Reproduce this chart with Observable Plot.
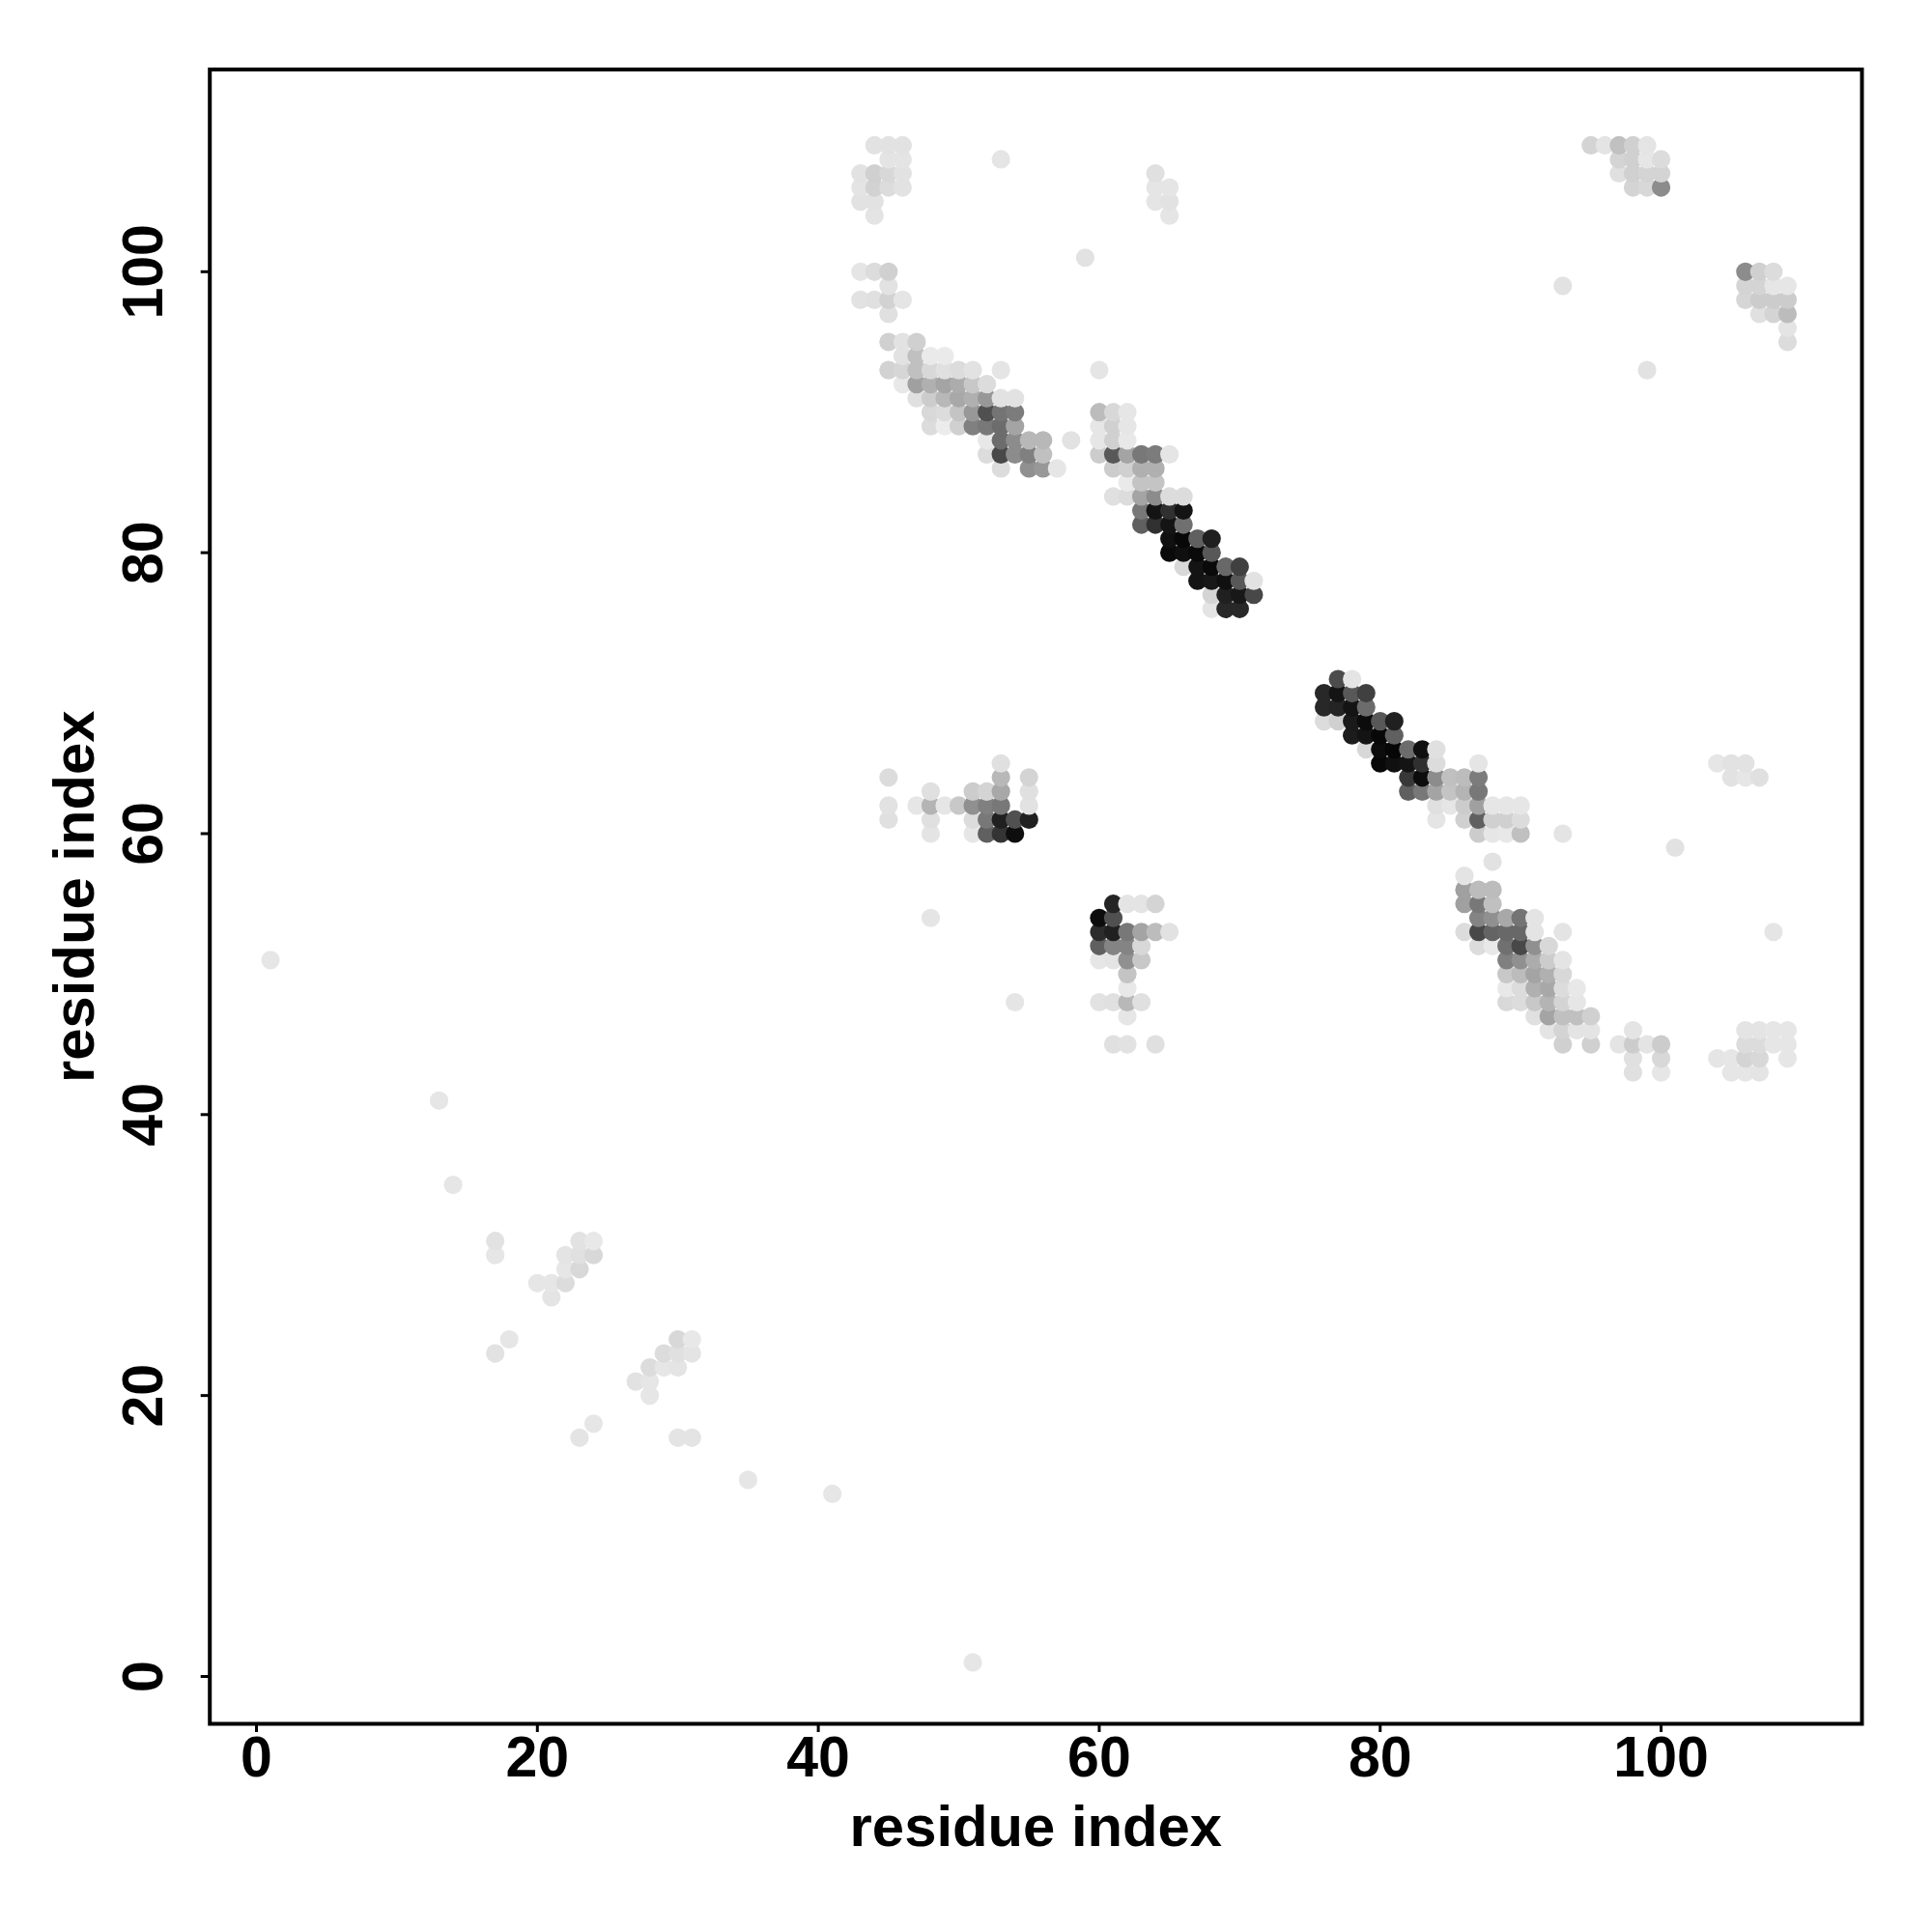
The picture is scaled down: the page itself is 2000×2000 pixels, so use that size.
<!DOCTYPE html>
<html>
<head>
<meta charset="utf-8">
<style>html,body{margin:0;padding:0;background:#fff}</style>
<script src="https://cdn.jsdelivr.net/npm/d3@7"></script>
<script src="https://cdn.jsdelivr.net/npm/@observablehq/plot@0.6"></script>
</head>
<body>
<script>
const axisTicks = [0, 20, 40, 60, 80, 100];
const axisTitle = "residue index";
// One entry per row of the map: the row's residue index, its column indices, and their grey levels.
const rowIndex = [109,108,107,106,105,104,101,100,99,98,97,96,95,94,93,92,91,90,89,88,87,86,85,84,83,82,81,80,79,78,77,76,71,70,69,68,67,66,65,64,63,62,61,60,59,58,57,56,55,54,53,52,51,50,49,48,47,46,45,44,43,41,35,31,30,29,28,27,24,23,22,21,20,18,17,14,13,1];
const rowColumns = [
[44,45,46,95,96,97,98,99],
[45,46,53,97,98,99,100],
[43,44,45,46,64,97,98,99,100],
[43,44,45,46,64,65,98,99,100],
[43,44,64,65],
[44,65],
[59],
[43,44,45,106,107,108],
[45,93,106,107,108,109],
[43,44,45,46,106,107,108,109],
[45,107,108,109],
[109],
[45,46,47,109],
[46,47,48,49],
[45,46,47,48,49,50,51,53,60,99],
[46,47,48,49,50,51,52],
[47,48,49,50,51,52,53,54],
[48,49,50,51,52,53,54,60,61,62],
[48,49,50,51,52,53,54,60,61,62],
[52,53,54,55,56,58,60,61,62],
[52,53,54,55,56,60,61,62,63,64,65],
[53,55,56,57,61,62,63,64],
[62,63,64],
[61,62,63,64,65,66],
[63,64,65,66],
[63,64,65,66],
[65,66,67,68],
[65,66,67,68],
[66,67,68,69,70],
[67,68,69,70,71],
[68,69,70,71],
[68,69,70],
[77,78],
[76,77,78,79],
[76,77,78,79],
[76,77,78,79,80,81],
[78,79,80,81],
[79,80,81,82,83,84],
[53,80,81,82,83,84,87,104,105,106],
[45,53,55,82,83,84,85,86,87,105,106,107],
[48,51,52,53,55,82,83,84,85,86,87],
[45,47,48,49,50,51,52,53,55,84,85,86,87,88,89,90],
[45,48,51,52,53,54,55,84,86,87,88,89,90],
[48,51,52,53,54,87,88,89,90,93],
[101],
[88],
[86],
[86,87,88],
[61,62,63,64,86,87,88],
[48,60,61,87,88,89,90,91],
[60,61,62,63,64,65,86,87,88,89,90,91,93,108],
[60,61,62,63,87,88,89,90,91,92],
[1,60,61,62,63,89,90,91,92,93],
[62,89,90,91,92,93],
[62,89,90,91,92,93,94],
[54,60,61,62,63,89,90,91,92,93,94],
[62,91,92,93,94,95],
[92,93,94,95,98,106,107,108,109],
[61,62,64,93,95,97,98,99,100,106,107,108,109],
[98,100,104,105,106,107,109],
[98,100,105,106,107],
[13],
[14],
[17,23,24],
[17,22,23,24],
[22,23],
[20,21,22],
[21],
[18,30,31],
[17,29,30,31],
[28,29,30],
[27,28],
[28],
[24],
[23,30,31],
[35],
[41],
[51]
];
const rowShades = [
[0xe2,0xe2,0xe2,0xd4,0xe4,0xc0,0xd0,0xe4],
[0xe4,0xe4,0xe5,0xd4,0xd0,0xe6,0xdc],
[0xe2,0xd0,0xd8,0xe2,0xe0,0xe0,0xd0,0xd4,0xd4],
[0xe4,0xd2,0xdc,0xe2,0xe5,0xe5,0xd4,0xd8,0x8c],
[0xe2,0xe2,0xe5,0xe2],
[0xe4,0xe5],
[0xe2],
[0xe5,0xdc,0xd0,0x8c,0xd0,0xdc],
[0xe2,0xe2,0xd4,0xd4,0xe6,0xe6],
[0xe2,0xe0,0xd2,0xe5,0xd6,0xcc,0xcc,0xcc],
[0xe0,0xe0,0xd4,0xbc],
[0xe4],
[0xd0,0xe2,0xd0,0xdc],
[0xe2,0xc0,0xea,0xea],
[0xd2,0xd6,0xc0,0xd8,0xe0,0xdc,0xe2,0xe5,0xe5,0xe2],
[0xe8,0xa0,0xb0,0xa4,0xac,0xc8,0xdc],
[0xe0,0xcc,0xb8,0xa8,0xb0,0x98,0xe2,0xe2],
[0xd8,0xdc,0xc4,0x98,0x50,0x74,0x7c,0xbc,0xd8,0xe6],
[0xdc,0xec,0xd0,0x80,0x78,0x6c,0xa4,0xe6,0xd0,0xe6],
[0xe8,0x6c,0x8c,0xb8,0xb8,0xe2,0xe6,0xd0,0xe8],
[0xdc,0x48,0x8c,0x80,0xc0,0xcc,0x58,0xa4,0x78,0x7c,0xe5],
[0xdc,0x90,0x98,0xe6,0xcc,0xd0,0xb0,0xb0],
[0xea,0xc4,0xc4],
[0xe0,0xdc,0xa4,0x8c,0xdc,0xdc],
[0x78,0x14,0x30,0x14],
[0x60,0x30,0x14,0x70],
[0x10,0x08,0x60,0x20],
[0x0a,0x10,0x0a,0x58],
[0xd8,0x14,0x0a,0x68,0x40],
[0x14,0x18,0x10,0x58,0xe2],
[0xd4,0x20,0x18,0x48],
[0xe4,0x28,0x28],
[0x4c,0xe4],
[0x28,0x14,0x58,0x40],
[0x28,0x24,0x14,0x6c],
[0xdc,0xd0,0x1a,0x0c,0x58,0x20],
[0x1c,0x14,0x08,0x60],
[0xd8,0x0c,0x06,0x6c,0x10,0xe0],
[0xe0,0x08,0x10,0x14,0x30,0xdc,0xe5,0xe6,0xe2,0xe2],
[0xdc,0xb8,0xd4,0x38,0x0c,0x8c,0xc0,0xbc,0x7c,0xe2,0xe6,0xe0],
[0xe0,0xcc,0xd4,0xa8,0xe0,0x60,0x78,0xa4,0xc4,0xb4,0x78],
[0xe2,0xe6,0xb4,0xe6,0xc8,0x90,0x80,0x78,0xe2,0xe0,0xe6,0xcc,0xa0,0xe6,0xe6,0xe6],
[0xe0,0xe0,0xdc,0x78,0x20,0x50,0x20,0xe5,0xd0,0x60,0xd0,0xd0,0xdc],
[0xe4,0xe6,0x60,0x34,0x0e,0xcc,0xe6,0xe8,0xc0,0xe4],
[0xe2],
[0xe2],
[0xe4],
[0xa0,0xbc,0xbc],
[0x24,0xe4,0xe4,0xd4,0xa0,0x78,0xc0],
[0xe5,0x0c,0x50,0x84,0x90,0xa8,0x74,0xe4],
[0x2c,0x20,0x78,0xa4,0xbc,0xe2,0xdc,0x48,0x64,0x68,0x68,0xe4,0xe4,0xe5],
[0x60,0x84,0x84,0xd8,0xdc,0xe8,0x70,0x48,0x90,0xd8],
[0xe6,0xe6,0xe4,0x90,0xc8,0x80,0x90,0xac,0xcc,0xe4],
[0xc4,0xc8,0xbc,0xa4,0xb0,0xd8],
[0xe8,0xe8,0xdc,0xb0,0xa8,0xdc,0xe8],
[0xe5,0xe2,0xe0,0xb8,0xe0,0xd8,0xdc,0xc8,0xb4,0xd4,0xe6],
[0xe6,0xe0,0xa4,0xc0,0xc0,0xd0],
[0xe4,0xd4,0xe4,0xe4,0xe4,0xe4,0xe4,0xe6,0xe6],
[0xe0,0xe2,0xe0,0xd0,0xd0,0xe4,0xcc,0xe4,0xcc,0xdc,0xdc,0xe6,0xe6],
[0xe0,0xd8,0xe5,0xe6,0xd4,0xd8,0xe6],
[0xe0,0xe6,0xe6,0xe6,0xe4],
[0xe6],
[0xe6],
[0xe2,0xe2,0xe8],
[0xe6,0xe4,0xe0,0xd8],
[0xe6,0xd8],
[0xe6,0xe6,0xdc],
[0xe4],
[0xe6,0xd8,0xe8],
[0xe2,0xdc,0xe0,0xe4],
[0xdc,0xe6,0xe4],
[0xe2,0xe6],
[0xe6],
[0xe6],
[0xe4,0xe4,0xe4],
[0xe6],
[0xe6],
[0xe6]
];

const contacts = d3.sort(
  rowIndex.flatMap((y, r) => rowColumns[r].map((x, c) => ({x, y, shade: rowShades[r][c]}))),
  d => d.x, d => d.y
);

const font = '"Liberation Sans", Arial, Helvetica, sans-serif';
const chart = Plot.plot({
  width: 2000,
  height: 2000,
  marginLeft: 216.7,
  marginRight: 73,
  marginTop: 71.4,
  marginBottom: 216,
  style: {fontFamily: font, fontWeight: "bold", background: "#fff", color: "#000"},
  x: {domain: [-3.32, 114.3]},
  y: {domain: [-3.37, 114.4]},
  color: {type: "linear", domain: [0, 255], range: ["#000", "#fff"]},
  marks: [
    Plot.dot(contacts, {x: "x", y: "y", r: 9.6, fill: "shade", stroke: null}),
    Plot.frame({stroke: "#000", strokeWidth: 4}),
    Plot.axisX({ticks: axisTicks, tickSize: 9, tickPadding: 3.5, strokeWidth: 3, fontSize: 59, label: null, tickFormat: d => String(d)}),
    Plot.axisY({ticks: axisTicks, tickSize: 9, tickPadding: 40, strokeWidth: 3, fontSize: 59, label: null, tickRotate: -90, tickFormat: d => String(d)}),
    Plot.text([axisTitle], {frameAnchor: "bottom", dy: 126, fontSize: 59.8, lineAnchor: "bottom", text: d => d}),
    Plot.text([axisTitle], {frameAnchor: "left", dx: -120, fontSize: 59.8, rotate: -90, lineAnchor: "bottom", textAnchor: "middle", text: d => d})
  ]
});
document.body.appendChild(chart);
</script>
</body>
</html>
